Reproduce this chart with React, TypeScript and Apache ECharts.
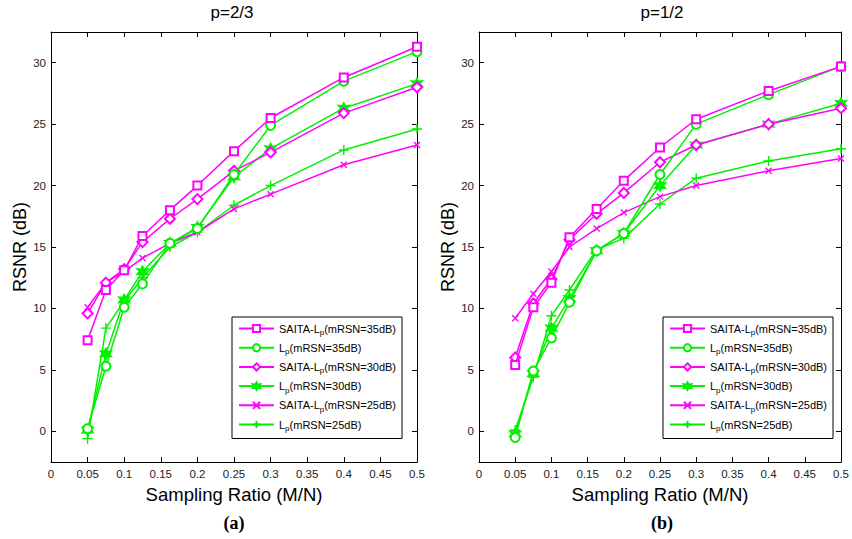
import React, { useEffect, useRef } from 'react';
import * as echarts from 'echarts';

const SAMPLING_RATIO = [0.05, 0.075, 0.1, 0.125, 0.1625, 0.2, 0.25, 0.3, 0.4, 0.5];
const Y_TICKS = [0, 5, 10, 15, 20, 25, 30];

const SERIES_NAMES = [
  'SAITA-Lp(mRSN=35dB)',
  'Lp(mRSN=35dB)',
  'SAITA-Lp(mRSN=30dB)',
  'Lp(mRSN=30dB)',
  'SAITA-Lp(mRSN=25dB)',
  'Lp(mRSN=25dB)',
];

const PANEL_TITLES = ['p=2/3', 'p=1/2'];
const PANEL_LABELS = ['(a)', '(b)'];

// p = 2/3
const A_SAITA_35 = [7.4, 11.5, 13.1, 15.9, 18.0, 20.0, 22.8, 25.5, 28.8, 31.3];
const A_LP_35 = [0.2, 5.3, 10.1, 12.0, 15.3, 16.5, 20.9, 24.9, 28.5, 30.9];
const A_SAITA_30 = [9.6, 12.1, 13.2, 15.4, 17.3, 18.9, 21.2, 22.7, 25.9, 28.0];
const A_LP_30 = [0.1, 6.3, 10.7, 13.0, 15.3, 16.6, 20.7, 23.0, 26.3, 28.3];
const A_SAITA_25 = [10.1, 12.1, 13.0, 14.1, 15.3, 16.2, 18.1, 19.3, 21.7, 23.3];
const A_LP_25 = [-0.6, 8.4, 10.6, 12.5, 15.0, 16.2, 18.4, 20.0, 22.9, 24.6];

// p = 1/2
const B_SAITA_35 = [5.4, 10.1, 12.1, 15.8, 18.1, 20.4, 23.1, 25.4, 27.7, 29.7];
const B_LP_35 = [-0.5, 4.9, 7.6, 10.5, 14.7, 16.1, 20.9, 25.0, 27.4, 29.7];
const B_SAITA_30 = [6.0, 10.4, 12.4, 15.6, 17.7, 19.4, 21.9, 23.3, 25.0, 26.3];
const B_LP_30 = [-0.2, 4.7, 8.4, 10.8, 14.7, 16.1, 20.0, 23.3, 25.0, 26.7];
const B_SAITA_25 = [9.2, 11.2, 13.0, 15.0, 16.5, 17.8, 19.1, 20.0, 21.2, 22.2];
const B_LP_25 = [0.1, 4.4, 9.4, 11.5, 14.8, 15.7, 18.5, 20.6, 22.0, 23.0];

const PANEL_A = [A_SAITA_35, A_LP_35, A_SAITA_30, A_LP_30, A_SAITA_25, A_LP_25];
const PANEL_B = [B_SAITA_35, B_LP_35, B_SAITA_30, B_LP_30, B_SAITA_25, B_LP_25];

const MAGENTA = '#ff00ff';
const GREEN = '#00f000';
const FONT = 'Liberation Sans, Arial, Helvetica, sans-serif';

function hexagramPath(): string {
  const pts: string[] = [];
  for (let i = 0; i < 12; i++) {
    const r = i % 2 === 0 ? 1 : 0.5;
    const a = (-90 + i * 30) * Math.PI / 180;
    pts.push(`${(r * Math.cos(a)).toFixed(3)},${(r * Math.sin(a)).toFixed(3)}`);
  }
  return 'path://M' + pts.join('L') + 'Z';
}

const SYMBOLS = [
  { symbol: 'emptyRect', size: 8 },
  { symbol: 'emptyCircle', size: 9 },
  { symbol: 'emptyDiamond', size: 10 },
  { symbol: hexagramPath(), size: 11 },
  { symbol: 'path://M0,0L1,1M1,0L0,1', size: 6 },
  { symbol: 'path://M0.5,0L0.5,1M0,0.5L1,0.5', size: 10 },
];

function legendFormatter(name: string): string {
  const i = name.indexOf('Lp');
  return `{n|${name.slice(0, i + 1)}}{s|p}{n|${name.slice(i + 2)}}`;
}

function makeAxes(gridIndex: number) {
  const axisLine = { show: true, onZero: false, lineStyle: { color: '#000', width: 1 } };
  const tick = { show: true, inside: true, length: 5, lineStyle: { color: '#000', width: 1 } };
  const xBase = { type: 'value', gridIndex, min: 0, max: 0.5, interval: 0.05, splitLine: { show: false } };
  const yBase = { type: 'value', gridIndex, min: -2.5, max: 32.5, splitLine: { show: false } };
  const xAxes = [
    {
      ...xBase,
      position: 'bottom',
      axisLine,
      axisTick: tick,
      axisLabel: { color: '#222', fontSize: 11.5, margin: 6, fontFamily: FONT },
      name: 'Sampling Ratio (M/N)',
      nameLocation: 'middle',
      nameGap: 20,
      nameTextStyle: { fontSize: 18.5, color: '#000', fontFamily: FONT },
    },
    {
      ...xBase,
      position: 'top',
      axisLine,
      axisTick: tick,
      axisLabel: { show: false },
    },
  ];
  const yAxes = [
    {
      ...yBase,
      position: 'left',
      axisLine,
      axisTick: { ...tick, customValues: Y_TICKS },
      axisLabel: { color: '#222', fontSize: 11.5, margin: 5, fontFamily: FONT, customValues: Y_TICKS },
      name: 'RSNR (dB)',
      nameLocation: 'middle',
      nameRotate: 90,
      nameGap: 22,
      nameTextStyle: { fontSize: 18, color: '#000', fontFamily: FONT },
    },
    {
      ...yBase,
      position: 'right',
      axisLine,
      axisTick: { ...tick, customValues: Y_TICKS },
      axisLabel: { show: false },
    },
  ];
  return { xAxes, yAxes };
}

function makeSeries(panel: number[][], axisOffset: number) {
  return panel.map((vals, k) => {
    const color = k % 2 === 0 ? MAGENTA : GREEN;
    return {
      type: 'line',
      name: SERIES_NAMES[k],
      xAxisIndex: axisOffset,
      yAxisIndex: axisOffset,
      data: SAMPLING_RATIO.map((x, i) => [x, vals[i]]),
      symbol: SYMBOLS[k].symbol,
      symbolSize: SYMBOLS[k].size,
      showSymbol: true,
      lineStyle: { color, width: 1.5 },
      itemStyle: { color, borderColor: color, borderWidth: 1.4 },
      emphasis: { disabled: true },
      z: 10 - k,
    };
  });
}

function makeLegend(left: number) {
  return {
    orient: 'vertical',
    left,
    top: 317,
    padding: [6, 6, 6, 6],
    itemWidth: 35,
    itemHeight: 9,
    itemGap: 5.7,
    backgroundColor: '#fff',
    borderColor: '#000',
    borderWidth: 1,
    borderRadius: 0,
    selectedMode: false,
    data: SERIES_NAMES,
    formatter: legendFormatter,
    textStyle: {
      color: '#000',
      fontFamily: FONT,
      rich: {
        n: { fontSize: 11, lineHeight: 16, fontFamily: FONT, color: '#000' },
        s: { fontSize: 8, lineHeight: 8, verticalAlign: 'bottom', fontFamily: FONT, color: '#000' },
      },
    },
  };
}

export default function App() {
  const ref = useRef<HTMLDivElement>(null);

  useEffect(() => {
    if (!ref.current) return;
    const chart = echarts.init(ref.current, null, { renderer: 'svg' });
    const a = makeAxes(0);
    const b = makeAxes(1);
    const titleStyle = { fontSize: 17, fontFamily: FONT, fill: '#000', align: 'center', verticalAlign: 'middle' };
    const labelStyle = { fontSize: 18, fontWeight: 'bold', fontFamily: 'Liberation Serif, DejaVu Serif, serif', fill: '#000', align: 'center', verticalAlign: 'middle' };
    const option = {
      animation: false,
      backgroundColor: '#fff',
      grid: [
        { left: 51, top: 32, width: 366, height: 430 },
        { left: 479, top: 32, width: 365, height: 430 },
      ],
      xAxis: [...a.xAxes, ...b.xAxes],
      yAxis: [...a.yAxes, ...b.yAxes],
      legend: [makeLegend(232), makeLegend(663)],
      series: [...makeSeries(PANEL_A, 0), ...makeSeries(PANEL_B, 2)],
      graphic: [
        { type: 'text', x: 232, y: 12, style: { ...titleStyle, text: PANEL_TITLES[0] } },
        { type: 'text', x: 662, y: 12, style: { ...titleStyle, text: PANEL_TITLES[1] } },
        { type: 'text', x: 234, y: 523, style: { ...labelStyle, text: PANEL_LABELS[0] } },
        { type: 'text', x: 662, y: 523, style: { ...labelStyle, text: PANEL_LABELS[1] } },
      ],
    };
    chart.setOption(option as any);
    return () => chart.dispose();
  }, []);

  return (
    <div
      ref={ref}
      style={{ position: 'fixed', left: 0, top: 0, width: 852, height: 539, background: '#fff' }}
    />
  );
}
